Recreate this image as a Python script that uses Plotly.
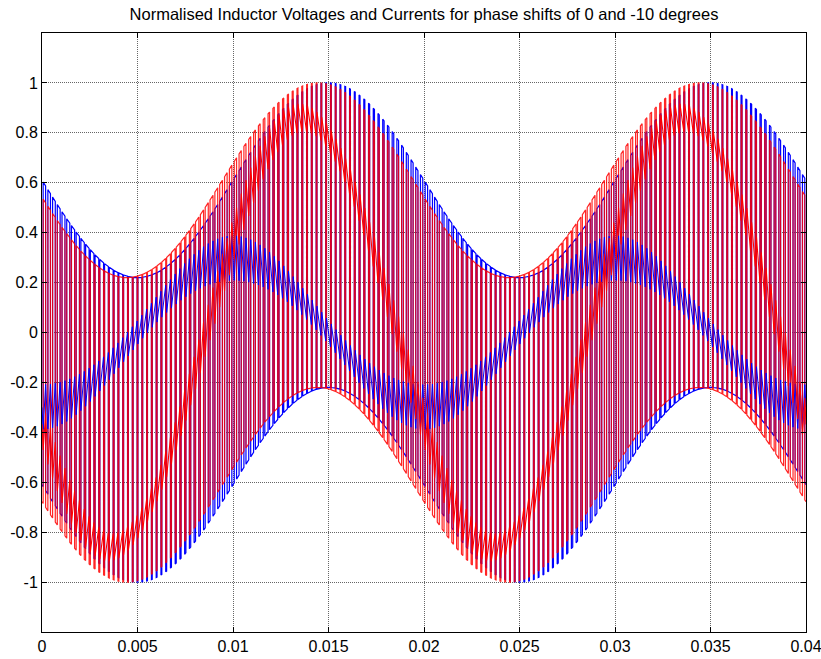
import numpy as np
import plotly.graph_objects as go

# ---- simulation settings (normalised units) ----
T_END = 0.04            # simulated time span [s]
F_GRID = 50.0           # grid frequency [Hz]
F_SW = 4000.0           # switching frequency [Hz]
V_DC_HALF = 0.61        # half dc-link voltage
V_GRID = 0.39           # grid voltage amplitude
V_REF = 0.416           # converter voltage reference amplitude
CURRENT_GAIN = 11.5     # normalising factor for the inductor current
RIPPLE_GAIN = 0.65      # scale of the switching ripple relative to the fundamental
PHASE_SHIFTS_DEG = [0, -10]
TRACE_COLORS = ["rgb(0,0,255)", "rgb(255,0,0)"]
VOLTAGE_OPACITY = [1.0, 0.85]
VOLTAGE_WIDTH = [1.2, 1.2]
CURRENT_WIDTH = [1.0, 1.1]

X_TICKS = [0, 0.005, 0.01, 0.015, 0.02, 0.025, 0.03, 0.035, 0.04]
X_TICK_TEXT = ["0", "0.005", "0.01", "0.015", "0.02", "0.025", "0.03", "0.035", "0.04"]
Y_TICKS = [-1, -0.8, -0.6, -0.4, -0.2, 0, 0.2, 0.4, 0.6, 0.8, 1]
Y_TICK_TEXT = ["-1", "-0.8", "-0.6", "-0.4", "-0.2", "0", "0.2", "0.4", "0.6", "0.8", "1"]

TITLE = "Normalised Inductor Voltages and Currents for phase shifts of 0 and -10 degrees"
FONT = "Liberation Sans, Arial, sans-serif"


def simulate(shift_deg):
    """Two-level PWM inductor voltage and integrated inductor current."""
    w = 2 * np.pi * F_GRID
    ts = 1.0 / F_SW
    phi = -np.deg2rad(shift_deg)          # grid leads the converter by -shift
    n_per = int(round(T_END * F_SW))

    def grid(t):
        return V_GRID * np.sin(w * t + phi)

    def grid_int(t):                      # antiderivative of -grid(t)
        return V_GRID / w * np.cos(w * t + phi)

    vt, vv = [], []
    edges, levels = [], []                # switching instants and level after them
    for k in range(n_per):
        t0 = k * ts
        tc = t0 + ts / 2                  # symmetric sampling at the carrier centre
        d = 0.5 + V_REF * np.sin(w * tc) / (2 * V_DC_HALF)
        d = min(max(d, 0.0), 1.0)
        t_on = tc - d / 2 * ts
        t_off = tc + d / 2 * ts
        for t, lv in ((t0, -1), (t_on, -1), (t_on, 1), (t_off, 1), (t_off, -1)):
            vt.append(t)
            vv.append(lv * V_DC_HALF - grid(t))
        edges += [t0, t_on, t_off]
        levels += [-1, 1, -1]
    vt.append(T_END)
    vv.append(-V_DC_HALF - grid(T_END))

    # current at every switching instant (piecewise integration)
    edges.append(T_END)
    edges = np.array(edges)
    s = np.zeros(len(edges))
    for j in range(1, len(edges)):
        s[j] = s[j - 1] + levels[j - 1] * V_DC_HALF * (edges[j] - edges[j - 1])
    cur = CURRENT_GAIN * w * (s + grid_int(edges) - grid_int(0.0))
    span = edges[-1] - edges[0]
    cur = cur - np.trapezoid(cur, edges) / span

    # split into fundamental and switching ripple
    a = 2 * np.trapezoid(cur * np.cos(w * edges), edges) / span
    b = 2 * np.trapezoid(cur * np.sin(w * edges), edges) / span
    fund = a * np.cos(w * edges) + b * np.sin(w * edges)
    cur = fund + RIPPLE_GAIN * (cur - fund)
    return np.array(vt), np.array(vv), edges, cur


results = [simulate(shift) for shift in PHASE_SHIFTS_DEG]

fig = go.Figure()
# voltages first, currents drawn on top
for shift, color, op, vw, res in zip(PHASE_SHIFTS_DEG, TRACE_COLORS, VOLTAGE_OPACITY,
                                     VOLTAGE_WIDTH, results):
    vt, vv, _, _ = res
    fig.add_trace(go.Scatter(x=vt, y=vv, mode="lines", opacity=op,
                             line=dict(color=color, width=vw),
                             name=f"v_L {shift} deg"))
for shift, color, iw, res in zip(PHASE_SHIFTS_DEG, TRACE_COLORS, CURRENT_WIDTH, results):
    _, _, it, iv = res
    fig.add_trace(go.Scatter(x=it, y=iv, mode="lines",
                             line=dict(color=color, width=iw),
                             name=f"i_L {shift} deg"))

axis_font = dict(family=FONT, size=16, color="black")
common = dict(showline=True, linecolor="black", linewidth=1, mirror="ticks",
              ticks="inside", ticklen=5, tickcolor="black",
              showgrid=True, gridcolor="rgba(0,0,0,0.6)", gridwidth=1,
              griddash="1px,1px", zeroline=False, tickfont=axis_font,
              ticklabeloverflow="allow", automargin=False)

fig.update_xaxes(range=[0, T_END], tickvals=X_TICKS, ticktext=X_TICK_TEXT, **common)
fig.update_yaxes(range=[-1.2, 1.2], tickvals=Y_TICKS, ticktext=Y_TICK_TEXT, **common)

fig.update_layout(
    width=821, height=659,
    margin=dict(l=42, r=15, t=33, b=27),
    plot_bgcolor="white", paper_bgcolor="white",
    showlegend=False,
    title=dict(text=TITLE, x=0.5, xref="paper", xanchor="center",
               y=1 - 14 / 659, yref="container", yanchor="middle",
               font=dict(family=FONT, size=16.5, color="black")),
)

fig.write_html("out.html")
